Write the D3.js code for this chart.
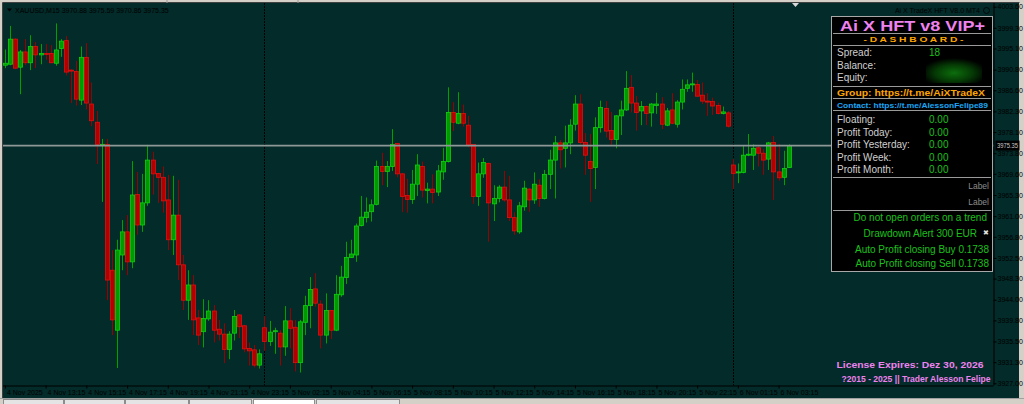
<!DOCTYPE html>
<html>
<head>
<meta charset="utf-8">
<script src="https://cdn.jsdelivr.net/npm/d3@7"></script>
<style>
  body { margin: 0; background: #d4d0c8; }
  svg { display: block; }
  text { font-family: "Liberation Sans", Arial, sans-serif; }
</style>
</head>
<body>
<svg id="chart" width="1024" height="404"></svg>
<script>
// XAUUSD M15, 4 Nov 2025 11:15 -> 6 Nov 03:45 (155 bars)
const opens = [3991.7,3991.9,3997.0,3991.3,3994.4,3992.2,3995.5,3993.8,3994.1,3994.1,3992.1,3995.1,3996.7,3990.7,3990.4,3984.6,3993.3,3983.8,3980.1,3975.4,
  3975.6,3950.0,3937.8,3953.1,3957.8,3951.7,3965.4,3959.2,3963.7,3972.4,3969.7,3968.9,3964.3,3956.2,3961.2,3951.1,3943.9,3947.0,3940.3,3937.5,
  3940.1,3941.7,3938.0,3937.0,3933.9,3937.2,3940.9,3938.7,3934.1,3933.8,3930.7,3938.3,3935.5,3937.5,3937.2,3934.4,3939.7,3938.4,3931.2,3939.4,
  3942.8,3946.2,3943.1,3936.8,3941.8,3937.8,3945.0,3948.5,3952.6,3953.1,3959.1,3960.7,3961.9,3963.4,3971.1,3970.1,3971.1,3975.8,3969.6,3965.2,
  3964.4,3967.5,3971.1,3966.2,3966.5,3965.9,3970.0,3972.1,3982.1,3979.9,3981.9,3979.5,3975.6,3965.0,3969.6,3971.7,3963.5,3964.6,3966.9,3964.3,
  3960.7,3957.8,3962.9,3966.5,3964.3,3967.3,3964.6,3969.5,3972.4,3975.9,3974.8,3975.9,3979.7,3983.8,3976.0,3972.1,3970.9,3979.0,3982.9,3978.4,
  3976.6,3981.4,3982.6,3987.2,3984.0,3982.4,3983.3,3982.0,3983.5,3983.8,3979.5,3982.6,3979.7,3984.2,3987.0,3987.7,3987.8,3985.6,3984.4,3984.3,
  3983.5,3981.9,3982.0,3971.4,3969.8,3969.9,3973.4,3973.4,3974.9,3973.8,3972.6,3976.0,3970.0,3968.9,3970.88];
const highs = [3994.9,3999.7,3997.2,3994.8,3997.0,3997.8,3996.4,3996.0,3996.0,3995.8,4000.2,3997.0,3997.6,3990.9,3992.6,3995.5,3996.2,3988.2,3982.4,3976.7,
  3976.7,3954.1,3956.2,3960.2,3961.2,3972.2,3970.0,3969.6,3975.5,3974.1,3969.8,3971.1,3969.4,3969.2,3968.4,3953.1,3950.0,3949.0,3941.9,3944.1,
  3943.9,3942.9,3939.9,3939.2,3937.6,3941.9,3941.1,3938.9,3935.3,3934.8,3933.9,3940.7,3939.7,3938.3,3937.8,3942.7,3942.3,3939.9,3939.9,3944.8,
  3948.6,3949.4,3943.9,3945.3,3941.9,3949.0,3950.9,3955.8,3956.2,3959.5,3965.1,3964.8,3964.4,3972.3,3973.9,3972.2,3978.7,3975.9,3969.8,3968.6,
  3970.4,3973.6,3972.1,3967.8,3969.5,3971.4,3974.9,3987.2,3984.2,3986.2,3983.7,3981.4,3975.6,3971.9,3972.8,3971.9,3967.3,3967.3,3970.2,3969.2,
  3961.8,3963.9,3968.2,3966.7,3969.9,3968.5,3970.4,3974.5,3977.3,3976.5,3979.4,3980.7,3985.6,3985.8,3977.9,3977.7,3981.1,3984.5,3984.4,3982.2,
  3981.5,3984.5,3990.5,3989.7,3985.4,3984.4,3983.5,3984.0,3986.1,3985.2,3983.0,3986.0,3984.6,3988.8,3988.8,3990.2,3988.7,3988.2,3986.0,3985.1,
  3984.1,3983.3,3982.4,3972.6,3971.7,3975.3,3977.7,3975.6,3975.3,3974.6,3976.1,3977.3,3975.7,3974.3,3975.59];
const lows = [3991.1,3991.7,3990.9,3985.8,3991.7,3990.7,3991.1,3991.9,3992.8,3992.1,3991.6,3993.4,3989.6,3984.0,3983.5,3983.6,3982.7,3979.3,3971.6,3963.9,
  3943.9,3936.8,3930.1,3950.0,3949.0,3950.4,3957.2,3957.8,3963.1,3965.4,3963.7,3961.7,3954.1,3953.1,3948.0,3941.9,3939.9,3936.8,3934.8,3934.3,
  3939.7,3935.3,3935.7,3931.1,3931.9,3935.7,3936.2,3933.3,3930.6,3930.2,3930.0,3933.6,3934.6,3933.0,3930.6,3932.6,3934.1,3929.4,3929.2,3936.8,
  3938.2,3942.6,3934.1,3935.1,3936.0,3937.6,3944.6,3947.2,3952.5,3951.7,3958.9,3959.7,3959.9,3963.2,3967.3,3966.9,3970.2,3968.9,3961.8,3961.7,
  3963.5,3965.1,3964.8,3963.6,3963.6,3965.1,3968.4,3971.9,3978.3,3979.7,3979.2,3975.0,3963.5,3963.1,3968.8,3955.8,3960.0,3963.8,3963.9,3960.0,
  3957.2,3957.4,3962.1,3961.9,3963.5,3962.9,3964.4,3966.5,3964.6,3970.7,3970.9,3973.6,3978.4,3975.6,3969.4,3963.9,3966.5,3978.0,3977.0,3975.5,
  3974.8,3977.5,3982.4,3982.1,3978.4,3979.5,3979.5,3979.2,3981.8,3978.7,3979.3,3979.7,3979.0,3982.7,3986.3,3986.3,3985.3,3983.8,3981.4,3981.6,
  3981.7,3981.7,3979.0,3966.5,3967.7,3969.7,3973.2,3970.4,3971.1,3969.4,3970.4,3964.3,3968.2,3967.3,3970.86];
const closes = [3992.1,3997.0,3991.1,3994.4,3992.2,3995.5,3993.8,3994.1,3993.9,3992.2,3994.8,3996.6,3990.3,3990.5,3984.8,3993.3,3984.0,3980.4,3975.6,3975.6,
  3948.0,3939.9,3954.1,3957.8,3951.7,3965.3,3959.2,3963.7,3972.4,3969.6,3968.9,3964.1,3956.2,3961.2,3951.1,3943.9,3947.0,3939.9,3936.8,3940.2,
  3941.7,3937.8,3937.0,3933.9,3937.0,3940.6,3938.5,3934.0,3933.6,3930.7,3933.0,3935.5,3937.4,3937.7,3934.4,3939.7,3938.2,3931.2,3939.5,3942.8,
  3946.1,3943.3,3936.8,3941.8,3937.8,3945.1,3948.6,3952.6,3953.3,3959.0,3960.8,3961.8,3963.3,3971.1,3970.1,3971.1,3975.6,3969.6,3965.0,3964.4,
  3967.5,3971.4,3966.3,3966.5,3965.8,3970.2,3972.1,3982.1,3980.1,3981.9,3979.9,3975.5,3965.0,3969.6,3971.9,3963.7,3964.6,3966.9,3964.3,3960.7,
  3958.0,3963.1,3966.7,3964.3,3967.5,3964.6,3969.5,3972.4,3975.9,3974.5,3975.9,3979.5,3983.8,3976.0,3973.4,3970.7,3979.0,3983.1,3978.3,3976.6,
  3981.4,3982.6,3987.0,3984.0,3982.1,3983.3,3981.9,3983.8,3983.8,3979.7,3982.4,3979.9,3984.2,3986.8,3987.7,3987.9,3985.4,3984.4,3984.2,3983.4,
  3981.9,3982.2,3979.3,3969.7,3970.0,3973.4,3973.6,3974.8,3973.8,3972.4,3975.9,3970.0,3968.8,3970.7,3975.35];

const priceTicks = [4003.60,3999.30,3995.10,3990.80,3986.60,3982.30,3978.10,3973.80,3969.60,3965.30,
  3961.00,3956.80,3952.50,3948.30,3944.00,3939.80,3935.50,3931.30,3927.00];
const timeTickBars = [0,8,16,24,32,40,48,56,64,72,80,88,96,104,112,120,128,136,144,152];
const timeTickLabels = ['4 Nov 2025','4 Nov 13:15','4 Nov 15:15','4 Nov 17:15','4 Nov 19:15','4 Nov 21:15',
  '4 Nov 23:15','5 Nov 02:15','5 Nov 04:15','5 Nov 06:15','5 Nov 08:15','5 Nov 10:15','5 Nov 12:15',
  '5 Nov 14:15','5 Nov 16:15','5 Nov 18:15','5 Nov 20:15','5 Nov 22:15','6 Nov 01:15','6 Nov 03:15'];
const dayStartBars = [51, 143];
const bid = 3975.35;

const statLabels = ['Spread:', 'Balance:', 'Equity:'];
const statValues = ['18', '', ''];
const profitLabels = ['Floating:', 'Profit Today:', 'Profit Yesterday:', 'Profit Week:', 'Profit Month:'];
const profitValues = ['0.00', '0.00', '0.00', '0.00', '0.00'];
const notes = ['Do not open orders on a trend', 'Drawdown Alert 300 EUR', 'Auto Profit closing Buy 0.1738', 'Auto Profit closing Sell 0.1738'];

const BG = '#022b29';
const svg = d3.select('#chart');
const plot = { left: 3, top: 3, right: 993.5, bottom: 385.5 };

const x = d3.scaleLinear().domain([0, opens.length - 1]).range([4.9, 4.9 + 5.09 * (opens.length - 1)]);
const y = d3.scaleLinear().domain([3927.0, 4003.6]).range([383.3, 6.7]);

// window frame + chart background
svg.append('rect').attr('width', 1024).attr('height', 404).attr('fill', '#d4d0c8');
svg.append('rect').attr('x', 3).attr('y', 3).attr('width', 1016).attr('height', 395).attr('fill', BG);
svg.append('path').attr('d', 'M2.5,398V2.5H1019.5').attr('stroke', '#404040').attr('fill', 'none');
svg.append('line').attr('x1', 0).attr('x2', 1024).attr('y1', 398.5).attr('y2', 398.5).attr('stroke', '#a0a0a0');
// tabs
const tabs = [[3, 64], [64, 125], [125, 189], [189, 252], [253, 315], [316, 400]];
svg.append('g').selectAll('rect').data(tabs).join('rect')
  .attr('x', d => d[0] + 0.5).attr('y', 399.5).attr('width', d => d[1] - d[0] - 1).attr('height', 6)
  .attr('fill', (d, i) => i === 4 ? '#ffffff' : '#e4e4e4').attr('stroke', '#8c8c8c');
svg.append('line').attr('x1', 167).attr('x2', 167).attr('y1', 0).attr('y2', 3).attr('stroke', '#9a9a9a');
svg.append('line').attr('x1', 298).attr('x2', 298).attr('y1', 0).attr('y2', 3).attr('stroke', '#9a9a9a');

svg.append('defs').append('clipPath').attr('id', 'plotclip').append('rect')
  .attr('x', plot.left).attr('y', plot.top).attr('width', plot.right - plot.left).attr('height', plot.bottom - plot.top);

// day separators
svg.append('g').selectAll('line').data(dayStartBars).join('line')
  .attr('x1', d => Math.round(x(d)) + 0.5).attr('x2', d => Math.round(x(d)) + 0.5)
  .attr('y1', plot.top).attr('y2', plot.bottom)
  .attr('stroke', '#000').attr('stroke-dasharray', '2,1');

// candles
const bars = opens.map((o, i) => ({ i, o, h: highs[i], l: lows[i], c: closes[i], up: closes[i] >= o }));
const cg = svg.append('g').attr('clip-path', 'url(#plotclip)');
cg.selectAll('line.wick').data(bars).join('line')
  .attr('class', 'wick')
  .attr('x1', d => Math.round(x(d.i)) + 0.5).attr('x2', d => Math.round(x(d.i)) + 0.5)
  .attr('y1', d => y(d.h)).attr('y2', d => y(d.l))
  .attr('stroke', d => d.up ? '#00a000' : '#9a0000');
cg.selectAll('rect.body').data(bars).join('rect')
  .attr('class', 'body')
  .attr('x', d => Math.round(x(d.i)) - 1.5).attr('width', 4)
  .attr('y', d => y(Math.max(d.o, d.c)))
  .attr('height', d => Math.max(1, Math.abs(y(d.o) - y(d.c))))
  .attr('fill', d => d.up ? '#009a00' : '#b00000')
  .attr('stroke', d => d.up ? '#10d010' : '#e01010').attr('stroke-width', 0.8);

// bid line
svg.append('line').attr('x1', plot.left).attr('x2', plot.right).attr('y1', y(bid)).attr('y2', y(bid))
  .attr('stroke', '#8e9896').attr('stroke-width', 1.6);

// price axis
const yAxis = d3.axisRight(y).tickValues(priceTicks).tickFormat(d3.format('.2f')).tickSize(3).tickPadding(1);
const ya = svg.append('g').attr('transform', `translate(${plot.right},0)`).call(yAxis);
ya.select('.domain').attr('d', `M0.5,${plot.top}V${plot.bottom}`).attr('stroke', '#000');
ya.selectAll('.tick line').attr('stroke', '#000');
ya.selectAll('.tick text').attr('font-size', 7).attr('fill', '#000').attr('font-family', 'Liberation Sans, Arial');
// current price box
svg.append('rect').attr('x', 995.5).attr('y', y(bid) - 5).attr('width', 24).attr('height', 10).attr('fill', '#000');
svg.append('text').attr('x', 997).attr('y', y(bid) + 2.5).attr('font-size', 6.6).attr('fill', '#c8c8c8')
  .attr('textLength', 21).attr('lengthAdjust', 'spacingAndGlyphs').text(d3.format('.2f')(bid));

// time axis
const xAxis = d3.axisBottom(x).tickValues(timeTickBars).tickFormat((d, i) => timeTickLabels[i]).tickSize(3).tickPadding(2);
const xa = svg.append('g').attr('transform', `translate(0,${plot.bottom})`).call(xAxis);
xa.select('.domain').attr('d', `M${plot.left},0.5H${plot.right}`).attr('stroke', '#000');
xa.selectAll('.tick line').attr('stroke', '#000');
xa.selectAll('.tick text').attr('font-size', 7).attr('fill', '#000').attr('text-anchor', 'start')
  .attr('dx', 1.5).attr('font-family', 'Liberation Sans, Arial');

// header texts
svg.append('path').attr('d', 'M7,8.5h5l-2.5,3z').attr('fill', '#000');
svg.append('text').attr('x', 15).attr('y', 12.5).attr('font-size', 7).attr('fill', '#000')
  .text(`XAUUSD,M15  ${d3.format('.2f')(opens[154])} ${d3.format('.2f')(highs[154])} ${d3.format('.2f')(lows[154])} ${d3.format('.2f')(closes[154])}`);
svg.append('text').attr('x', 980).attr('y', 13).attr('font-size', 7).attr('fill', '#000').attr('text-anchor', 'end')
  .text('Ai X TradeX HFT   V8.0 MT4');
svg.append('circle').attr('cx', 986.5).attr('cy', 10.5).attr('r', 3).attr('fill', 'none').attr('stroke', '#000').attr('stroke-width', 0.8);
svg.append('path').attr('d', 'M792,3h7l-3.5,4z').attr('fill', '#d8d8d8');

// dashboard
const dash = svg.append('g');
const glow = svg.select('defs').append('radialGradient').attr('id', 'glow').attr('cx', '50%').attr('cy', '60%').attr('r', '60%');
glow.append('stop').attr('offset', '0%').attr('stop-color', '#0c6e0c');
glow.append('stop').attr('offset', '55%').attr('stop-color', '#053a05');
glow.append('stop').attr('offset', '100%').attr('stop-color', '#000');
dash.append('rect').attr('x', 831.5).attr('y', 16.5).attr('width', 161).attr('height', 255)
  .attr('fill', '#000').attr('stroke', '#a8a8a8');
dash.append('text').attr('x', 912.5).attr('y', 30.5).attr('text-anchor', 'middle')
  .attr('font-family', 'DejaVu Sans').attr('font-weight', 'bold').attr('font-size', 14)
  .attr('textLength', 145).attr('lengthAdjust', 'spacingAndGlyphs').attr('fill', '#ee82ee').text('Ai X HFT v8 VIP+');
dash.append('text').attr('x', 913.5).attr('y', 42).attr('text-anchor', 'middle')
  .attr('font-family', 'DejaVu Sans').attr('font-weight', 'bold').attr('font-size', 8)
  .attr('textLength', 100).attr('lengthAdjust', 'spacingAndGlyphs').attr('fill', '#ffa500').text('- D A S H B O A R D -');
const sepY = [33.5, 45.5, 86.5, 98.5, 110.5, 177.5, 210.5];
dash.selectAll('line.sep').data(sepY).join('line').attr('class', 'sep')
  .attr('x1', 833).attr('x2', 991).attr('y1', d => d).attr('y2', d => d).attr('stroke', '#9a9a9a');

dash.append('rect').attr('x', 926).attr('y', 58).attr('width', 56).attr('height', 25).attr('fill', 'url(#glow)');
statLabels.forEach((t, i) => {
  dash.append('text').attr('x', 837).attr('y', 56 + i * 12.6).attr('font-size', 10).attr('fill', '#d0d0d0').text(t);
  dash.append('text').attr('x', 929).attr('y', 56 + i * 12.6).attr('font-size', 10).attr('fill', '#1cc01c').text(statValues[i]);
});
dash.append('text').attr('x', 837).attr('y', 95.5).attr('font-family', 'DejaVu Sans').attr('font-weight', 'bold')
  .attr('font-size', 8.5).attr('textLength', 148).attr('lengthAdjust', 'spacingAndGlyphs').attr('fill', '#ffa500')
  .text('Group: https://t.me/AiXTradeX');
dash.append('text').attr('x', 837).attr('y', 107.5).attr('font-family', 'DejaVu Sans').attr('font-weight', 'bold')
  .attr('font-size', 8).attr('textLength', 151).attr('lengthAdjust', 'spacingAndGlyphs').attr('fill', '#1aa6f5')
  .text('Contact: https://t.me/AlessonFelipe89');
profitLabels.forEach((t, i) => {
  dash.append('text').attr('x', 837).attr('y', 123 + i * 12.5).attr('font-size', 10).attr('fill', '#d0d0d0').text(t);
  dash.append('text').attr('x', 929).attr('y', 123 + i * 12.5).attr('font-size', 10).attr('fill', '#1cc01c').text(profitValues[i]);
});
['Label', 'Label'].forEach((t, i) => {
  dash.append('text').attr('x', 989).attr('y', 189 + i * 16).attr('text-anchor', 'end').attr('font-size', 8.5)
    .attr('fill', '#8c8c8c').text(t);
});
const noteRight = [987, 977, 989, 989];
const noteY = [220.5, 237, 253, 267];
notes.forEach((t, i) => {
  dash.append('text').attr('x', noteRight[i]).attr('y', noteY[i]).attr('text-anchor', 'end').attr('font-size', 10)
    .attr('fill', '#1cc01c').text(t);
});
dash.append('text').attr('x', 985.5).attr('y', 235).attr('text-anchor', 'middle').attr('font-size', 7)
  .attr('fill', '#e0e0e0').text('✖');

// license
svg.append('text').attr('x', 983.5).attr('y', 367.7).attr('text-anchor', 'end')
  .attr('font-family', 'DejaVu Sans').attr('font-weight', 'bold').attr('font-size', 9.5)
  .attr('textLength', 147).attr('lengthAdjust', 'spacingAndGlyphs').attr('fill', '#ee82ee')
  .text('License Expires: Dez 30, 2026');
svg.append('text').attr('x', 990.5).attr('y', 381.5).attr('text-anchor', 'end')
  .attr('font-family', 'DejaVu Sans').attr('font-weight', 'bold').attr('font-size', 8.5)
  .attr('textLength', 149).attr('lengthAdjust', 'spacingAndGlyphs').attr('fill', '#ee82ee')
  .text('?2015 - 2025 || Trader Alesson Felipe');
</script>
</body>
</html>
